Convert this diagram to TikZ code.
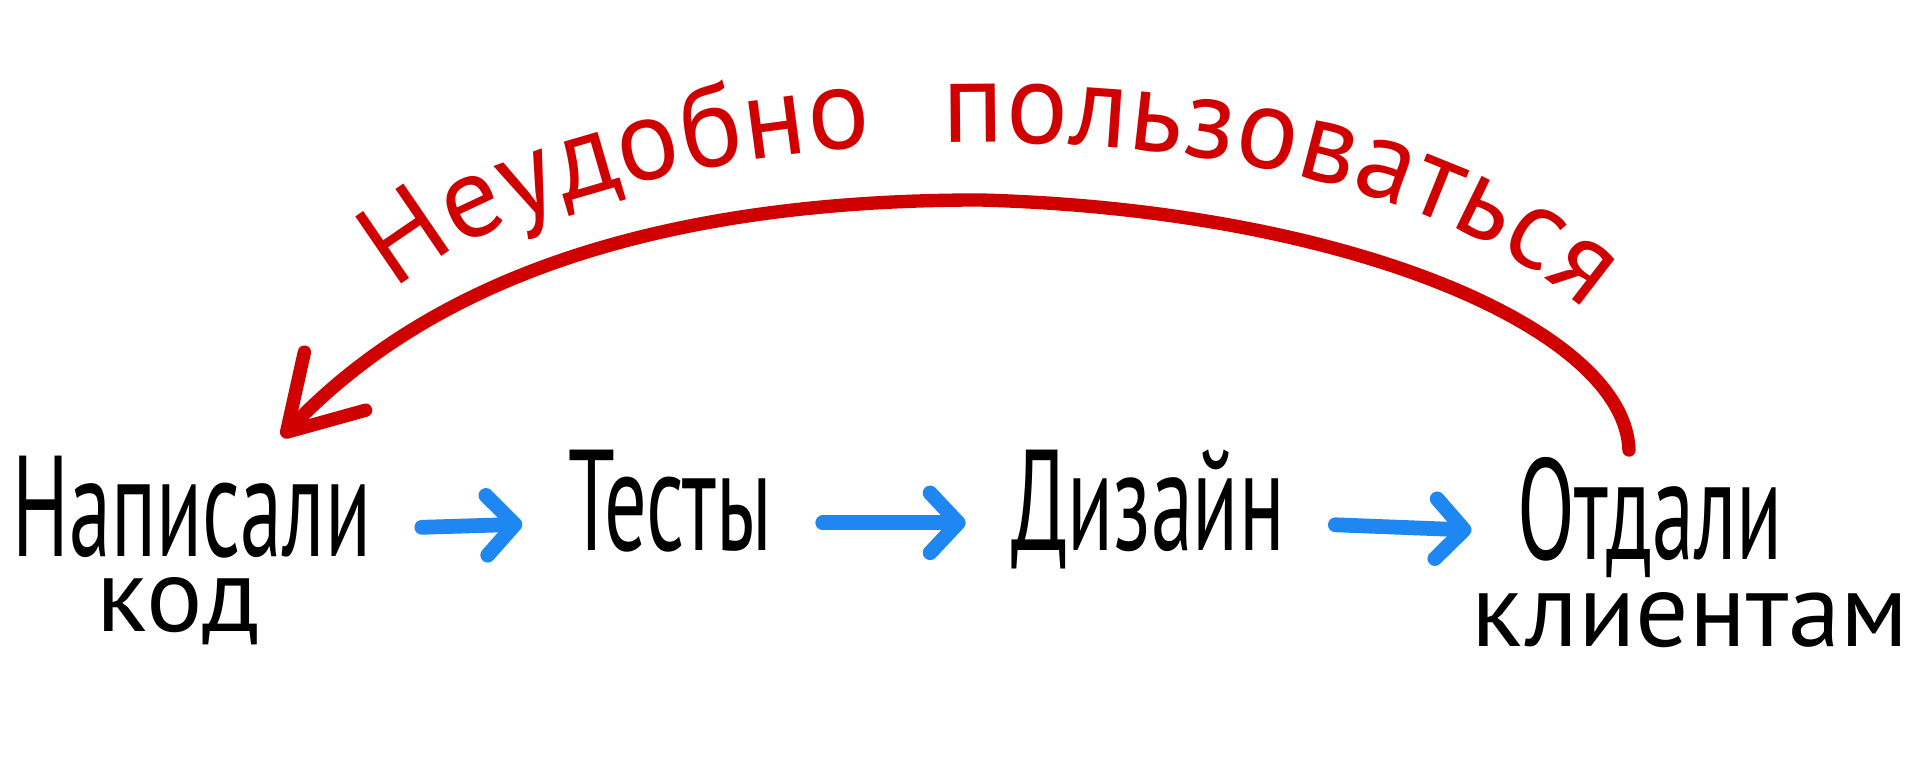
\documentclass[tikz,border=0pt]{standalone}
\usepackage{fontspec}
\setmainfont{PT Sans}
\usepackage{graphicx}
\usepackage{tikz}
\usetikzlibrary{arrows.meta,positioning,decorations.text}
\definecolor{ArcRed}{rgb}{0.82,0.00,0.00}
\definecolor{FlowBlue}{rgb}{0.12,0.53,0.95}
\tikzset{
	stage/.style={
		anchor=base, inner sep=0pt, text height=16pt, text depth=0pt,
		font=\fontsize{24}{28}\selectfont},
	sub/.style={
		anchor=base, inner sep=0pt, font=\fontsize{30}{34}\selectfont},
	flow/.style={
		draw=FlowBlue, line width=4.2pt, line cap=round,
		-{Straight Barb[round,length=8pt,width=17pt]},
		shorten <=0.5cm, shorten >=0.45cm},
	back/.style={
		draw=ArcRed, line width=3.8pt, line cap=round,
		-{Straight Barb[round,length=20pt,width=24pt]}}
}
\def\handf#1{\scalebox{1}[1.7]{#1}}
\def\redf{\fontsize{33}{36}\selectfont\color{ArcRed}}

\begin{document}
\begin{tikzpicture}[x=0.01cm,y=-0.01cm]
	\fill[white] (0,0) rectangle (1920,768);
	\useasboundingbox (0,0) rectangle (1920,768);
	% the chain
	\node[stage] (write) at (192,557) {\handf{Написали}};
	\node[sub] (code) at (178,632) {код};
	\node[stage] (tests) at (670,551) {\handf{Тесты}};
	\node[stage] (design) at (1148,551) {\handf{Дизайн}};
	\node[stage] (deliver) at (1650,560) {\handf{Отдали}};
	\node[sub] (clients) at (1690,647) {клиентам};
	\draw[flow] (write.east) -- (tests.west);
	\draw[flow] (tests.east) -- (design.west);
	\draw[flow] (design.east) -- (deliver.west);
	% the way back
	\coordinate (peak) at (980,200);
	\draw[back] ([shift={(-21,-53)}]deliver.north) .. controls (1625,330) and (1350,210) .. (peak)
		.. controls (700,200) and (450,260) .. ([shift={(90,-63)}]write.north);
	\path[decorate, decoration={text along path, text align=fit to path,
		text={|\redf|Неудобно{\hspace{0.6em}}пользоваться}}]
		(395,292) .. controls (580,120) and (1300,60) .. (1585,310);
\end{tikzpicture}
\end{document}
